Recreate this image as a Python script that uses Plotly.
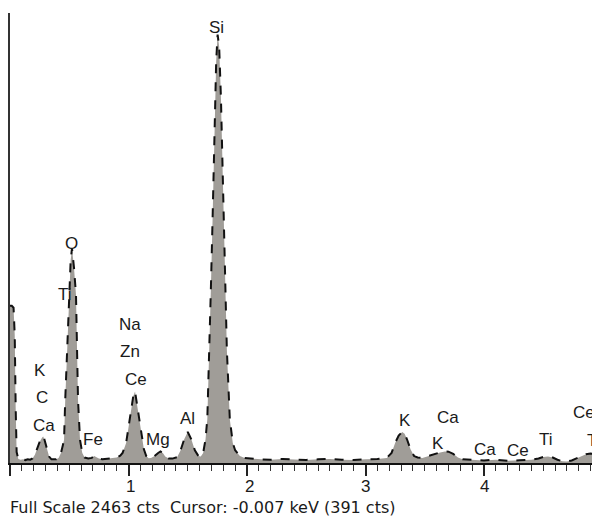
import plotly.graph_objects as go

# Spectrum (keV, counts)
energy_kev = [0.0, 0.015, 0.03, 0.04, 0.048, 0.056, 0.07, 0.09, 0.11, 0.13, 0.15, 0.17, 0.19,
              0.21, 0.23, 0.25, 0.27, 0.28, 0.29, 0.31, 0.33, 0.35, 0.37, 0.39, 0.41,
              0.43, 0.445, 0.456, 0.466, 0.482, 0.498, 0.512, 0.523, 0.54, 0.557, 0.566, 0.574,
              0.591, 0.61, 0.63, 0.66, 0.69, 0.71, 0.73, 0.75, 0.78, 0.82, 0.86, 0.9, 0.93,
              0.95, 0.98, 1.0, 1.02, 1.04, 1.055, 1.07, 1.09, 1.11, 1.13, 1.15, 1.17,
              1.19, 1.22, 1.25, 1.27, 1.29, 1.31, 1.34, 1.37, 1.41, 1.44, 1.47, 1.50,
              1.53, 1.56, 1.59, 1.61, 1.63, 1.65, 1.665, 1.68, 1.695, 1.71, 1.725, 1.74,
              1.752, 1.765, 1.78, 1.795, 1.81, 1.83, 1.855, 1.88, 1.90, 1.94, 1.98,
              2.05, 2.12, 2.2, 2.3, 2.4, 2.5, 2.6, 2.7, 2.8, 2.9, 3.0, 3.1, 3.18, 3.22,
              3.25, 3.28, 3.31, 3.33, 3.35, 3.38, 3.41, 3.44, 3.48, 3.53, 3.58, 3.63,
              3.67, 3.70, 3.74, 3.78, 3.82, 3.9, 4.0, 4.1, 4.2, 4.3, 4.4, 4.46, 4.5,
              4.54, 4.58, 4.62, 4.66, 4.7, 4.74, 4.78, 4.82, 4.86, 4.9, 4.93, 4.96, 4.98]
counts = [860, 860, 850, 700, 300, 60, 22, 18, 20, 16, 20, 18, 25,
          45, 80, 115, 138, 145, 130, 80, 35, 20, 18, 20, 28,
          55, 95, 126, 345, 650, 940, 1110, 1175, 1070, 920, 600, 345,
          126, 55, 30, 25, 28, 38, 32, 24, 20, 22, 25, 30, 40,
          55, 110, 190, 280, 365, 392, 330, 240, 150, 75, 38, 26,
          28, 38, 55, 63, 55, 35, 24, 24, 32, 70, 130, 170,
          130, 70, 38, 35, 55, 130, 240, 560, 950, 1350, 1820, 2200,
          2345, 2280, 2000, 1550, 1080, 620, 240, 110, 70, 38, 28,
          22, 20, 18, 22, 19, 17, 20, 22, 18, 16, 20, 22, 28, 55,
          110, 150, 170, 160, 130, 75, 38, 30, 28, 38, 50, 58,
          63, 62, 50, 30, 20, 16, 14, 18, 12, 15, 18, 25, 33,
          35, 30, 18, 10, 8, 14, 25, 38, 48, 52, 50, 45, 40]

full_scale = 2463

# Peak labels: (text, energy keV, counts level of label)
label_text = ["Si", "O", "Ti", "K", "C", "Ca", "Fe", "Na", "Zn", "Ce", "Mg", "Al",
              "K", "Ca", "K", "Ca", "Ce", "Ti", "Ce", "Ti"]
label_kev = [1.74, 0.523, 0.465, 0.25, 0.27, 0.29, 0.70, 1.01, 1.01, 1.06, 1.25, 1.495,
             3.33, 3.70, 3.61, 4.01, 4.29, 4.52, 4.84, 4.93]
label_cts = [2385, 1200, 920, 505, 358, 205, 130, 758, 610, 457, 130, 243,
             230, 247, 105, 73, 67, 130, 275, 125]

tick_vals = [0, 1, 2, 3, 4, 5]

x_max = 590 / 118.5
FONT = "Liberation Sans, Arial, sans-serif"

fig = go.Figure()
fig.add_trace(go.Scatter(
    x=energy_kev, y=counts, mode="lines", fill="tozeroy",
    fillcolor="#a09d98", line=dict(color="#111111", width=2, dash="dash"),
    hoverinfo="skip", showlegend=False,
))

for t, xk, yc in zip(label_text, label_kev, label_cts):
    fig.add_annotation(x=xk, y=yc, text=t, showarrow=False, xanchor="center", yanchor="middle",
                       font=dict(family=FONT, size=17, color="#1a1a1a"))

for v in tick_vals:
    xpos = v + (0.02 if v in (1, 2) else 0)
    if v == 0:
        xpos = -1 / 118.5
    fig.add_annotation(x=xpos, xref="x", y=-0.053, yref="paper", text=str(v), showarrow=False,
                       xanchor="center", yanchor="middle",
                       font=dict(family=FONT, size=17, color="#1a1a1a"))

fig.add_annotation(x=-2 / 590, xref="paper", xanchor="left",
                   y=-(508 - 463.5) / 450, yref="paper", yanchor="middle",
                   text="Full Scale 2463 cts  Cursor: -0.007 keV (391 cts)", showarrow=False,
                   font=dict(family="DejaVu Sans, sans-serif", size=16, color="#1a1a1a"))

# page body has an 8px margin; the figure is sized to fit the 600x518 window
fig.update_layout(
    width=592, height=510,
    margin=dict(l=2, r=0, t=5, b=54.5),
    paper_bgcolor="white", plot_bgcolor="white",
    xaxis=dict(range=[0, x_max], showgrid=False, zeroline=False,
               showline=True, linecolor="#111111", linewidth=2,
               ticks="outside", tickvals=tick_vals, ticklen=11, tickwidth=1.5, tickcolor="#222222",
               showticklabels=False,
               minor=dict(ticks="outside", dtick=0.1, ticklen=6, tickwidth=1, tickcolor="#333333")),
    yaxis=dict(range=[0, full_scale], showgrid=False, zeroline=False,
               showline=True, linecolor="#333333", linewidth=2,
               showticklabels=False, ticks=""),
)

fig.write_html("out.html")
